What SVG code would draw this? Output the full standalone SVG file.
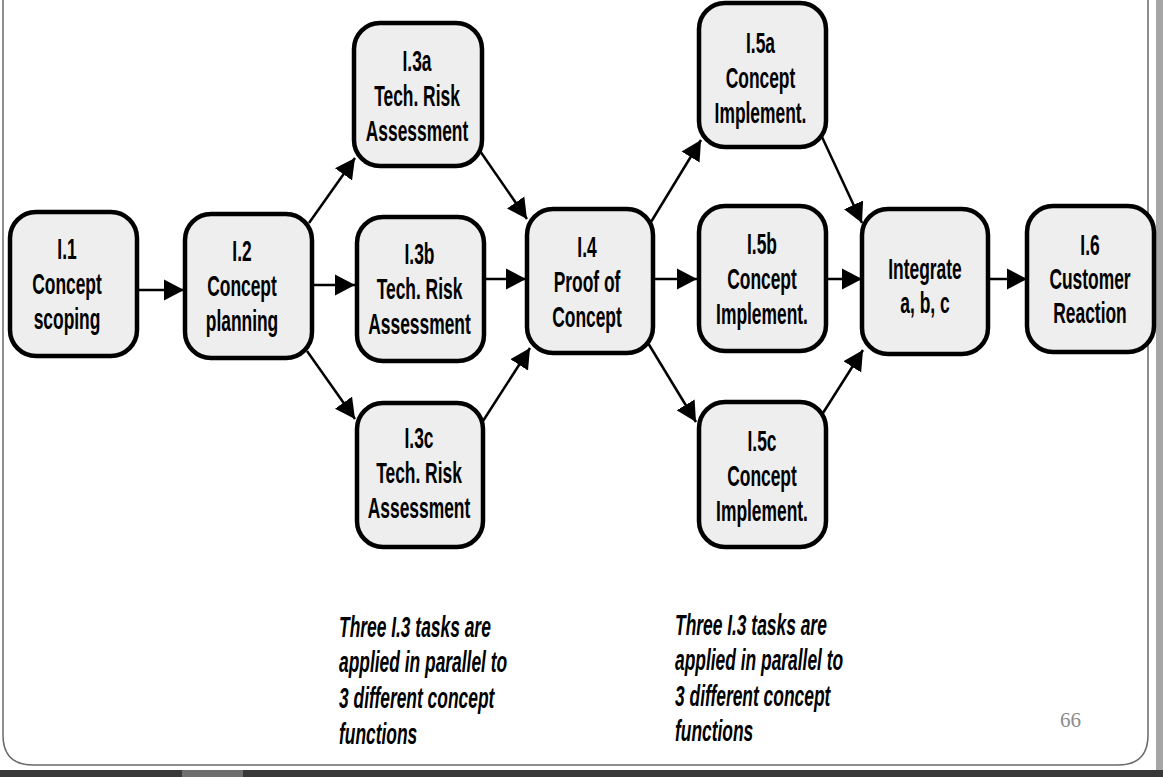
<svg xmlns="http://www.w3.org/2000/svg" width="1163" height="777" viewBox="0 0 1163 777">
<style>
.node rect{fill:#eeeeee;stroke:#000;stroke-width:4.5}
.node text{font-family:"Liberation Sans",Arial,sans-serif;font-weight:bold;font-size:30px;text-anchor:middle;fill:#000}
.conn line{stroke:#000;stroke-width:2.5;marker-end:url(#ah)}
.note{font-family:"Liberation Sans",Arial,sans-serif;font-weight:bold;font-style:italic;font-size:30px;fill:#000}
.frame{fill:none;stroke:#6a6a6a;stroke-width:1.5}
</style>
<defs>
<marker id="ah" markerUnits="userSpaceOnUse" markerWidth="21" markerHeight="22" refX="20" refY="10.5" orient="auto" viewBox="0 0 21 21">
<path d="M0,0 L20,10.5 L0,21 z" fill="#000"/>
</marker>
</defs>
<rect x="0" y="0" width="1163" height="777" fill="#fff"/>
<g id="frame">
<path class="frame" d="M3,0 L3,735 Q3,765 33,765 L1118,765 Q1148,765 1148,735 L1148,0"/>
<rect x="1156" y="0" width="7" height="770" fill="#a6a6a6"/>
<rect x="0" y="770" width="1163" height="7" fill="#383838"/>
<rect x="182" y="770" width="61" height="7" fill="#6e6e6e"/>
</g>
<g id="connectors" class="conn">
<line x1="137" y1="290" x2="184" y2="290"/>
<line x1="309" y1="223" x2="355" y2="158"/>
<line x1="312" y1="285" x2="355" y2="285"/>
<line x1="307" y1="351" x2="355" y2="419"/>
<line x1="480" y1="151" x2="527" y2="219"/>
<line x1="484" y1="279" x2="526" y2="279"/>
<line x1="483" y1="421" x2="530" y2="348"/>
<line x1="651" y1="222" x2="701" y2="140"/>
<line x1="653" y1="279" x2="697" y2="279"/>
<line x1="648" y1="343" x2="696" y2="422"/>
<line x1="822" y1="137" x2="862" y2="223"/>
<line x1="824" y1="279" x2="862" y2="279"/>
<line x1="823" y1="413" x2="863" y2="350"/>
<line x1="988" y1="279" x2="1027" y2="279"/>
</g>
<g id="n-i1" class="node"><rect x="10" y="212" width="127" height="144" rx="26"/>
<text transform="translate(67,259) scale(0.58,1)"><tspan x="0" y="0">I.1</tspan><tspan x="0" y="35">Concept</tspan><tspan x="0" y="70">scoping</tspan></text></g>
<g id="n-i2" class="node"><rect x="185" y="214" width="127" height="144" rx="26"/>
<text transform="translate(242,261) scale(0.58,1)"><tspan x="0" y="0">I.2</tspan><tspan x="0" y="35">Concept</tspan><tspan x="0" y="70">planning</tspan></text></g>
<g id="n-i3a" class="node"><rect x="354" y="23" width="128" height="143" rx="26"/>
<text transform="translate(417,71) scale(0.58,1)"><tspan x="0" y="0">I.3a</tspan><tspan x="0" y="35">Tech. Risk</tspan><tspan x="0" y="70">Assessment</tspan></text></g>
<g id="n-i3b" class="node"><rect x="357" y="217" width="127" height="144" rx="26"/>
<text transform="translate(419.5,264) scale(0.58,1)"><tspan x="0" y="0">I.3b</tspan><tspan x="0" y="35">Tech. Risk</tspan><tspan x="0" y="70">Assessment</tspan></text></g>
<g id="n-i3c" class="node"><rect x="357" y="403" width="126" height="144" rx="26"/>
<text transform="translate(419,448) scale(0.58,1)"><tspan x="0" y="0">I.3c</tspan><tspan x="0" y="35">Tech. Risk</tspan><tspan x="0" y="70">Assessment</tspan></text></g>
<g id="n-i4" class="node"><rect x="527" y="209" width="126" height="144" rx="26"/>
<text transform="translate(587,257) scale(0.58,1)"><tspan x="0" y="0">I.4</tspan><tspan x="0" y="35">Proof of</tspan><tspan x="0" y="70">Concept</tspan></text></g>
<g id="n-i5a" class="node"><rect x="699" y="3" width="127" height="144" rx="26"/>
<text transform="translate(760.5,53) scale(0.58,1)"><tspan x="0" y="0">I.5a</tspan><tspan x="0" y="35">Concept</tspan><tspan x="0" y="70">Implement.</tspan></text></g>
<g id="n-i5b" class="node"><rect x="699" y="206" width="127" height="145" rx="26"/>
<text transform="translate(762,254) scale(0.58,1)"><tspan x="0" y="0">I.5b</tspan><tspan x="0" y="35">Concept</tspan><tspan x="0" y="70">Implement.</tspan></text></g>
<g id="n-i5c" class="node"><rect x="699" y="402" width="127" height="145" rx="26"/>
<text transform="translate(762,451) scale(0.58,1)"><tspan x="0" y="0">I.5c</tspan><tspan x="0" y="35">Concept</tspan><tspan x="0" y="70">Implement.</tspan></text></g>
<g id="n-integrate" class="node"><rect x="862" y="209" width="126" height="145" rx="26"/>
<text transform="translate(925,279) scale(0.58,1)"><tspan x="0" y="0">Integrate</tspan><tspan x="0" y="34">a, b, c</tspan></text></g>
<g id="n-i6" class="node"><rect x="1027" y="206" width="127" height="146" rx="26"/>
<text transform="translate(1090,255) scale(0.58,1)"><tspan x="0" y="0">I.6</tspan><tspan x="0" y="34">Customer</tspan><tspan x="0" y="68">Reaction</tspan></text></g>
<g id="note-left">
<text class="note" transform="translate(339,637) scale(0.58,1)"><tspan x="0" y="0">Three I.3 tasks are</tspan><tspan x="0" y="35">applied in parallel to</tspan><tspan x="0" y="71">3 different concept</tspan><tspan x="0" y="107">functions</tspan></text>
</g>
<g id="note-right">
<text class="note" transform="translate(675,635) scale(0.58,1)"><tspan x="0" y="0">Three I.3 tasks are</tspan><tspan x="0" y="35">applied in parallel to</tspan><tspan x="0" y="71">3 different concept</tspan><tspan x="0" y="106">functions</tspan></text>
</g>
<text x="1060" y="727" font-family="Liberation Serif,serif" font-size="21" fill="#8c8c8c">66</text>
</svg>
